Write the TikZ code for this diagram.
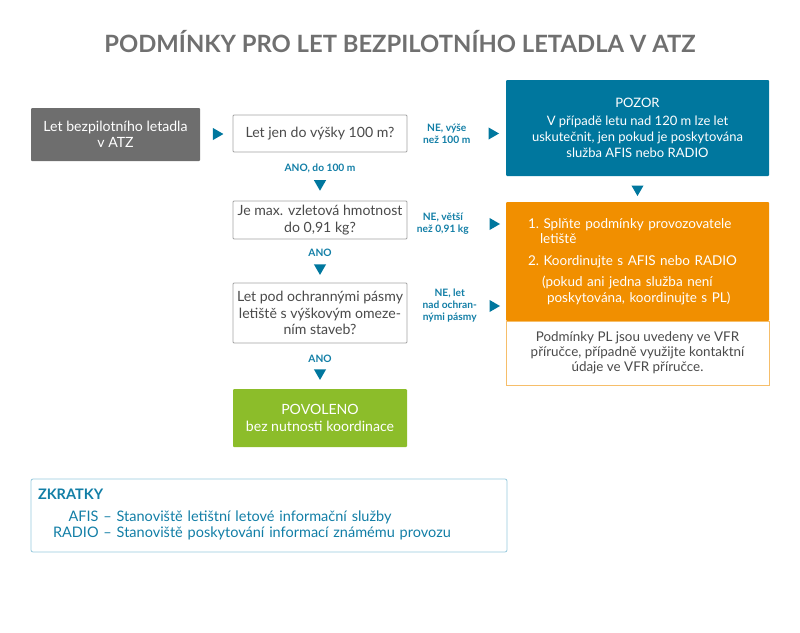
\documentclass[tikz,border=0pt]{standalone}
\usepackage{fontspec}
\setmainfont{Lato}
\usepackage{tikz}
\usetikzlibrary{positioning,shapes.geometric,calc}

\definecolor{titlegray}{HTML}{707070}
\definecolor{startgray}{HTML}{6E6E6E}
\definecolor{textgray}{HTML}{4A4A4A}
\definecolor{framegray}{HTML}{A3A3A3}
\definecolor{pozorblue}{HTML}{00779E}
\definecolor{lblblue}{HTML}{127EA6}
\definecolor{actorange}{HTML}{F18F00}
\definecolor{lightorange}{HTML}{F6BE6A}
\definecolor{okgreen}{HTML}{8CBD2A}
\definecolor{abbrframe}{HTML}{96C8DC}

\begin{document}
\begin{tikzpicture}[x=1pt,y=-1pt,
  every node/.style={font=\fontsize{13}{16}\selectfont},
  bigtext/.style={font=\fontsize{14.1}{16.5}\selectfont},
  startbox/.style={bigtext, fill=startgray, text=white, rounded corners=1pt, align=center,
                   minimum width=169, minimum height=53, inner sep=0pt},
  qbox/.style={bigtext, draw=framegray, fill=white, rounded corners=1pt, line width=0.8pt,
               text=textgray, align=center, minimum width=174, inner sep=0pt},
  okbox/.style={bigtext, fill=okgreen, text=white, rounded corners=1pt, align=center,
                minimum width=174, minimum height=58, inner sep=0pt},
  warnbox/.style={fill=pozorblue, text=white, rounded corners=1pt, align=center,
                  minimum width=263, minimum height=96, inner sep=0pt},
  actbox/.style={font=\fontsize{13.5}{15.5}\selectfont, fill=actorange, text=white,
                 rounded corners=1pt, align=left, text width=219, minimum height=119,
                 inner xsep=22pt, inner ysep=0pt},
  notebox/.style={font=\fontsize{13.4}{15}\selectfont, draw=lightorange, fill=white,
                  line width=0.8pt, text=textgray, align=center, minimum width=263,
                  minimum height=64, inner sep=0pt},
  abbrbox/.style={font=\fontsize{14.5}{16}\selectfont, draw=abbrframe, rounded corners=2pt,
                  line width=0.8pt, text=lblblue, align=left, text width=462,
                  minimum height=73, inner xsep=7pt},
  lbl/.style={text=lblblue, font=\fontsize{10.2}{12}\selectfont\bfseries, align=center, inner sep=0pt},
  tri/.style={regular polygon, regular polygon sides=3, fill=pozorblue,
              minimum size=14, inner sep=0pt}
]
\useasboundingbox (0,0) rectangle (800,632);

% title
\node[text=titlegray, font=\fontsize{23.8}{28}\selectfont\bfseries] (title) at (400,42)
  {PODMÍNKY PRO LET BEZPILOTNÍHO LETADLA V ATZ};

% main column
\node[startbox] (start) at (115.5,134.5) {Let bezpilotního letadla\\ v ATZ};
\node[qbox, minimum height=37] (q1) at (320,133.5) {Let jen do výšky 100 m?};
\node[qbox, minimum height=38] (q2) at (320,220) {Je max. vzletová hmotnost\\ do 0,91 kg?};
\node[qbox, minimum height=60] (q3) at (320,313) {Let pod ochrannými pásmy\\ letiště s výškovým omeze-\\ ním staveb?};
\node[okbox] (ok) at (320,418) {POVOLENO\\ bez nutnosti koordinace};

% right column
\node[warnbox] (pozor) at (637.5,128) {POZOR\\[2pt] V případě letu nad 120 m lze let\\ uskutečnit, jen pokud je poskytována\\ služba AFIS nebo RADIO};
\node[actbox] (act) at (637.5,261.5) {%
  1.~Splňte podmínky provozovatele\\
  \hspace*{12pt}letiště\\[6pt]
  2.~Koordinujte s AFIS nebo RADIO\\[6pt]
  \hspace*{14pt}(pokud ani jedna služba není\\
  \hspace*{19pt}poskytována, koordinujte s PL)};
\node[notebox] (note) at (637.5,353) {Podmínky PL jsou uvedeny ve VFR\\ příručce, případně využijte kontaktní\\ údaje ve VFR příručce.};

% abbreviations
\node[abbrbox] (abbr) at (269,515.5) {%
  {\bfseries ZKRATKY}\\[6pt]
  \hspace*{15pt}{\renewcommand\arraystretch{0.95}%
  \begin{tabular}[t]{@{}r@{\ --\ }l@{}}
    AFIS & Stanoviště letištní letové informační služby\\
    RADIO & Stanoviště poskytování informací známému provozu
  \end{tabular}}};

% connectors
\path (start) -- node[tri, rotate=-90] {} (q1);
\path (q1.east) -- node[lbl, pos=0.40] {NE, výše\\ než 100 m}
  node[tri, rotate=-90, pos=0.86] {} (q1.east -| pozor.west);
\path ([yshift=-4pt]q2.east) -- node[lbl, pos=0.36] {NE, větší\\ než 0,91 kg}
  node[tri, rotate=-90, pos=0.87] {} ([yshift=-4pt]q2.east -| act.west);
\path ([yshift=7pt]q3.east) -- node[lbl, pos=0.43] {NE, let\\ nad ochran-\\ nými pásmy}
  node[tri, rotate=-90, pos=0.87] {} ([yshift=7pt]q3.east -| act.west);
\path (q1) -- node[lbl, pos=0.33] {ANO, do 100 m} node[tri, rotate=180, pos=0.65] {} (q2);
\path (q2) -- node[lbl, pos=0.32] {ANO} node[tri, rotate=180, pos=0.66] {} (q3);
\path (q3) -- node[lbl, pos=0.33] {ANO} node[tri, rotate=180, pos=0.65] {} (ok);
\path (pozor) -- node[tri, rotate=180] {} (act);
\end{tikzpicture}
\end{document}
